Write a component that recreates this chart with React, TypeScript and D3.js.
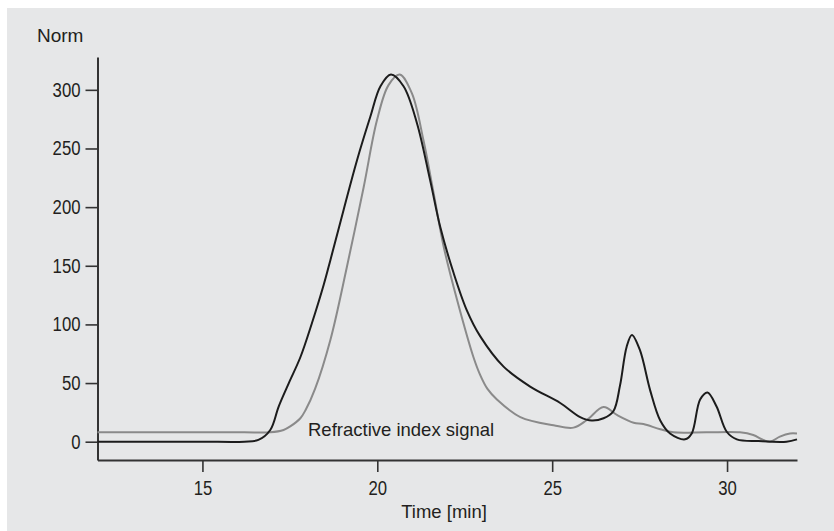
import React, { useEffect, useRef } from 'react';
import * as d3 from 'd3';

// black trace (sample)
const sampleTime = [
  12, 13.5, 15, 16.2, 16.6, 16.94, 17.18, 17.47, 17.8, 18.13, 18.47, 18.66, 19.04, 19.42, 19.8,
  20.09, 20.39, 20.75, 21.13, 21.51, 21.8, 22.18, 22.56, 22.94, 23.61, 24.37, 25.23, 25.8, 26.13,
  26.47, 26.75, 26.94, 27.13, 27.28, 27.51, 27.8, 28.09, 28.37, 28.8, 28.99, 29.23, 29.44, 29.7,
  29.99, 30.28, 30.9, 31.7, 32,
];
const sampleValue = [
  0, 0, 0, 0, 1.5, 10, 30, 50, 72, 101, 134, 155, 198, 240, 277, 303, 313, 303, 272, 223, 183, 144,
  112, 90, 64, 47, 33, 21, 18, 20, 26, 48, 81, 91, 78, 44, 18, 7, 2, 7, 36, 42, 30, 8.5, 2, 0.5, 0, 2,
];

// grey trace (refractive index signal)
const riTime = [
  12, 13.5, 15, 16.2, 16.94, 17.32, 17.51, 17.8, 17.95, 18.22, 18.66, 19.13, 19.61, 19.99, 20.32,
  20.64, 20.99, 21.32, 21.61, 21.9, 22.28, 22.75, 22.94, 23.15, 23.42, 24.09, 25.04, 25.61, 25.99,
  26.47, 26.85, 27.33, 27.61, 28.09, 28.47, 29.4, 30.37, 30.75, 31.04, 31.23, 31.51, 31.8, 32,
];
const riValue = [
  8, 8, 8, 8, 8, 10, 13, 20, 27, 45, 87, 149, 217, 274, 304, 313, 297, 257, 212, 166, 121, 72, 57,
  45, 36, 21, 14, 12, 18.5, 29.5, 22.8, 16.2, 15.1, 10.6, 8, 8, 8, 5.7, 1.5, 0, 4.3, 7, 7,
];

const yTicks = [0, 50, 100, 150, 200, 250, 300];
const xTicks = [15, 20, 25, 30];

const W = 834;
const H = 531;
const textColor = '#231f20';

export default function App() {
  const svgRef = useRef<SVGSVGElement>(null);

  useEffect(() => {
    if (!svgRef.current) return;
    const svg = d3.select(svgRef.current);
    svg.selectAll('*').remove();

    svg.append('rect').attr('width', W).attr('height', H).attr('fill', '#fff');
    svg.append('rect').attr('x', 7).attr('y', 8).attr('width', W - 7).attr('height', H - 8).attr('fill', '#e6e7e8');

    const x = d3.scaleLinear().domain([12, 32]).range([97.5, 797]);
    const y = d3.scaleLinear().domain([-15.6, 328]).range([460, 57]);

    const line = d3
      .line<[number, number]>()
      .x((d) => x(d[0]))
      .y((d) => y(d[1]))
      .curve(d3.curveCatmullRom.alpha(0.5));

    const tickFont = '"Liberation Sans", Arial, sans-serif';
    // condensed-looking digits, like the original's narrow face
    const narrow = (sel: d3.Selection<any, any, any, any>) =>
      sel
        .attr('fill', textColor)
        .style('font-family', tickFont)
        .style('font-size', '20px')
        .attr('textLength', (d: number) => String(d).length * 9.3)
        .attr('lengthAdjust', 'spacingAndGlyphs');

    // axes
    const yAxis = svg
      .append('g')
      .attr('transform', `translate(${x(12)},0)`)
      .call(d3.axisLeft(y).tickValues(yTicks).tickSize(12).tickSizeOuter(0).tickPadding(5));
    yAxis.select('.domain').attr('stroke', '#333').attr('stroke-width', 2);
    yAxis.selectAll('.tick line').attr('stroke', '#333').attr('stroke-width', 1.6);
    narrow(yAxis.selectAll('.tick text'));

    const xAxis = svg
      .append('g')
      .attr('transform', `translate(0,${y(-15.6)})`)
      .call(d3.axisBottom(x).tickValues(xTicks).tickSize(12).tickSizeOuter(0).tickPadding(9));
    xAxis.select('.domain').attr('stroke', '#333').attr('stroke-width', 2);
    xAxis.selectAll('.tick line').attr('stroke', '#333').attr('stroke-width', 1.6);
    narrow(xAxis.selectAll('.tick text'));

    // traces
    svg
      .append('path')
      .datum(d3.zip(riTime, riValue) as [number, number][])
      .attr('d', line)
      .attr('fill', 'none')
      .attr('stroke', '#8a8a8a')
      .attr('stroke-width', 2);

    svg
      .append('path')
      .datum(d3.zip(sampleTime, sampleValue) as [number, number][])
      .attr('d', line)
      .attr('fill', 'none')
      .attr('stroke', '#1c1c1c')
      .attr('stroke-width', 2);

    const labelFont = '"Liberation Sans", Arial, sans-serif';
    svg
      .append('text')
      .attr('x', 37)
      .attr('y', 42)
      .attr('fill', textColor)
      .style('font-family', labelFont)
      .style('font-size', '19px')
      .text('Norm');

    svg
      .append('text')
      .attr('x', 444)
      .attr('y', 518)
      .attr('text-anchor', 'middle')
      .attr('fill', textColor)
      .style('font-family', labelFont)
      .style('font-size', '18.5px')
      .text('Time [min]');

    svg
      .append('text')
      .attr('x', 308)
      .attr('y', 436)
      .attr('fill', textColor)
      .style('font-family', labelFont)
      .style('font-size', '18.5px')
      .text('Refractive index signal');
  }, []);

  return (
    <svg
      ref={svgRef}
      width={W}
      height={H}
      style={{ position: 'absolute', left: 0, top: 0, display: 'block' }}
    />
  );
}
